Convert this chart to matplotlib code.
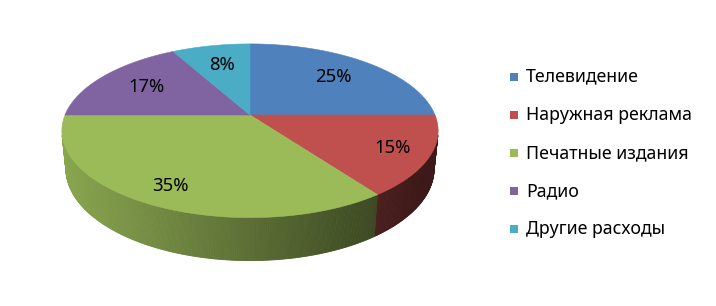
import numpy as np
import matplotlib
matplotlib.use('Agg')
import matplotlib.pyplot as plt
from matplotlib.patches import Polygon, Rectangle
from matplotlib.colors import to_rgb

plt.rcParams['font.family'] = ['Noto Sans', 'DejaVu Sans']

# данные
categories = ['Телевидение', 'Наружная реклама', 'Печатные издания', 'Радио', 'Другие расходы']
shares = [25, 15, 35, 17, 8]
labels = ['25%', '15%', '35%', '17%', '8%']
colors = ['#4F81BD', '#C0504D', '#9BBB59', '#8064A2', '#4BACC6']

# геометрия "3D" круга (в пикселях)
cx, cy = 250, 115
R = 185.0
H = 43.0
phi = np.radians(27.0)
D = 908.0


def proj(theta, r, h):
    t = np.radians(theta)
    xw = r * np.sin(t)
    z = -r * np.cos(t)
    v = h * np.cos(phi) - z * np.sin(phi)
    w = h * np.sin(phi) + z * np.cos(phi)
    s = D / (D - w)
    return cx + xw * s, cy - v * s


def shade(x):
    return np.clip(0.88 - (x - 66) / 309.0 * 0.49, 0.32, 1.0)


fig = plt.figure(figsize=(7.16, 3.06), dpi=100)
ax = fig.add_axes([0, 0, 1, 1])
ax.set_xlim(0, 716)
ax.set_ylim(306, 0)
ax.axis('off')

# углы секторов (по часовой стрелке от 12 часов)
total = float(sum(shares))
edges = np.concatenate([[0], np.cumsum(shares)]) / total * 360.0

# видимая боковая стенка
tv = np.degrees(np.arccos(-R / (D * np.cos(phi))))
vis_a, vis_b = tv, 360 - tv

# боковые стенки
for i in range(len(shares)):
    a = max(edges[i], vis_a)
    b = min(edges[i + 1], vis_b)
    if b <= a:
        continue
    base = np.array(to_rgb(colors[i]))
    steps = np.linspace(a, b, int((b - a) / 0.5) + 2)
    for t1, t2 in zip(steps[:-1], steps[1:]):
        x1, y1 = proj(t1, R, 0)
        x2, y2 = proj(t2, R, 0)
        x3, y3 = proj(t2, R, -H)
        x4, y4 = proj(t1, R, -H)
        c = base * shade((x1 + x2) / 2)
        ax.add_patch(Polygon([(x1, y1), (x2, y2), (x3, y3), (x4, y4)],
                             closed=True, facecolor=c, edgecolor=c, lw=0.6))

# верхняя грань
for i in range(len(shares)):
    ts = np.linspace(edges[i], edges[i + 1], 100)
    px, py = proj(ts, R, 0)
    pts = [(cx, cy)] + list(zip(px, py))
    ax.add_patch(Polygon(pts, closed=True, facecolor=colors[i],
                         edgecolor=colors[i], lw=0.4))

# подписи
for i in range(len(shares)):
    mid = (edges[i] + edges[i + 1]) / 2
    front = max(0.0, -np.cos(np.radians(mid)))
    frac = 0.69 + 0.13 * min(1.0, 2 * front)
    lx, ly = proj(mid, R * frac, 0)
    ax.text(lx, ly, labels[i], ha='center', va='center', fontsize=13.3, color='black')

# легенда
for i, name in enumerate(categories):
    y = 76.5 + i * 38.2
    ax.add_patch(Rectangle((509.5, y - 4), 8, 8, facecolor=colors[i], edgecolor='none'))
    ax.text(526, y, name, ha='left', va='center', fontsize=12.8, color='black')

fig.savefig('out.png', dpi=100)
